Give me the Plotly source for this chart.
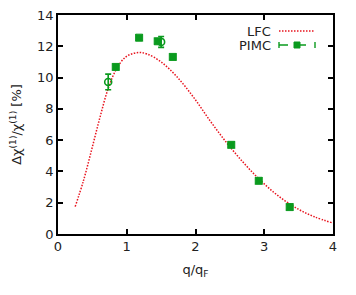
import plotly.graph_objects as go

# LFC curve
lfc_x = [0.25, 0.37, 0.49, 0.61, 0.73, 0.85, 0.98, 1.1, 1.2, 1.3, 1.5, 1.73,
         1.97, 2.21, 2.45, 2.7, 2.94, 3.2, 3.49, 3.73, 4.0]
lfc_y = [1.75, 3.4, 5.4, 7.45, 9.3, 10.55, 11.3, 11.55, 11.6, 11.5, 11.0, 10.05,
         8.75, 7.25, 5.85, 4.55, 3.45, 2.45, 1.6, 1.1, 0.7]

# PIMC (filled markers)
pimc_x = [0.84, 1.18, 1.45, 1.67, 2.52, 2.92, 3.37]
pimc_y = [10.68, 12.55, 12.32, 11.32, 5.7, 3.4, 1.72]
pimc_err = [0.12, 0.1, 0.15, 0.12, 0.12, 0.12, 0.15]

# PIMC (open markers)
pimc2_x = [0.73, 1.5]
pimc2_y = [9.72, 12.28]
pimc2_err = [0.5, 0.35]

red = "#e8141e"
green = "#0a9a1e"

fig = go.Figure()
fig.add_trace(go.Scatter(x=lfc_x, y=lfc_y, mode="lines",
                         line=dict(color=red, dash="1.5px,1.5px", width=1.5, shape="spline", smoothing=1),
                         showlegend=False, hoverinfo="skip"))
fig.add_trace(go.Scatter(x=pimc_x, y=pimc_y, mode="markers",
                         marker=dict(symbol="square-x", size=7, color=green, line=dict(color=green, width=1)),
                         error_y=dict(type="data", array=pimc_err, color=green, thickness=1.2, width=3),
                         showlegend=False))
fig.add_trace(go.Scatter(x=pimc2_x, y=pimc2_y, mode="markers",
                         marker=dict(symbol="circle-open", size=7, color=green, line=dict(color=green, width=1.6)),
                         error_y=dict(type="data", array=pimc2_err, color=green, thickness=1.6, width=3),
                         showlegend=False))

font = dict(family="DejaVu Sans, sans-serif", size=13, color="#222")

axis_common = dict(showline=True, linecolor="black", linewidth=1.5, mirror="ticks",
                   ticks="inside", ticklen=5, tickwidth=1.5, tickcolor="black",
                   showgrid=False, zeroline=False, tickfont=font, automargin=False,
                   ticklabeloverflow="allow")

# page body has an 8px margin, so figure is a bit smaller and margins reduced
fig.update_layout(
    width=348, height=287,
    margin=dict(l=50, r=23, t=7, b=61),
    paper_bgcolor="white", plot_bgcolor="white",
    font=font,
    xaxis=dict(range=[0, 4], tickvals=[0, 1, 2, 3, 4], title=dict(text="q/q<sub>F</sub>", font=font, standoff=12),
               **axis_common),
    yaxis=dict(range=[0, 14], tickvals=[0, 2, 4, 6, 8, 10, 12, 14],
               title=dict(text="Δχ<sup>(1)</sup>/χ<sup>(1)</sup> [%]", font=font, standoff=19),
               **axis_common),
    showlegend=False,
)

# manual legend (gnuplot style: text right, sample on right), positions in reference pixels
def px2paper_x(px):
    return (px - 58) / (333 - 58)

def py2paper_y(py):
    return (234 - py) / (234 - 15)

fig.add_annotation(x=px2paper_x(273), y=py2paper_y(31), xref="paper", yref="paper", text="LFC",
                   showarrow=False, xanchor="right", yanchor="middle", font=font)
fig.add_annotation(x=px2paper_x(273), y=py2paper_y(45), xref="paper", yref="paper", text="PIMC",
                   showarrow=False, xanchor="right", yanchor="middle", font=font)
fig.add_shape(type="line", xref="paper", yref="paper",
              x0=px2paper_x(279), x1=px2paper_x(315), y0=py2paper_y(31), y1=py2paper_y(31),
              line=dict(color=red, dash="1.5px,1.5px", width=1.5))
fig.add_shape(type="line", xref="paper", yref="paper",
              x0=px2paper_x(279), x1=px2paper_x(315), y0=py2paper_y(45), y1=py2paper_y(45),
              line=dict(color=green, dash="dash", width=1.4))
for cx in (279, 315):
    fig.add_shape(type="line", xref="paper", yref="paper",
                  x0=px2paper_x(cx), x1=px2paper_x(cx), y0=py2paper_y(42), y1=py2paper_y(48),
                  line=dict(color=green, width=1.4))
fig.add_shape(type="rect", xref="paper", yref="paper",
              x0=px2paper_x(294), x1=px2paper_x(300), y0=py2paper_y(42), y1=py2paper_y(48),
              line=dict(color=green, width=1), fillcolor=green)

fig.write_html("out.html")
